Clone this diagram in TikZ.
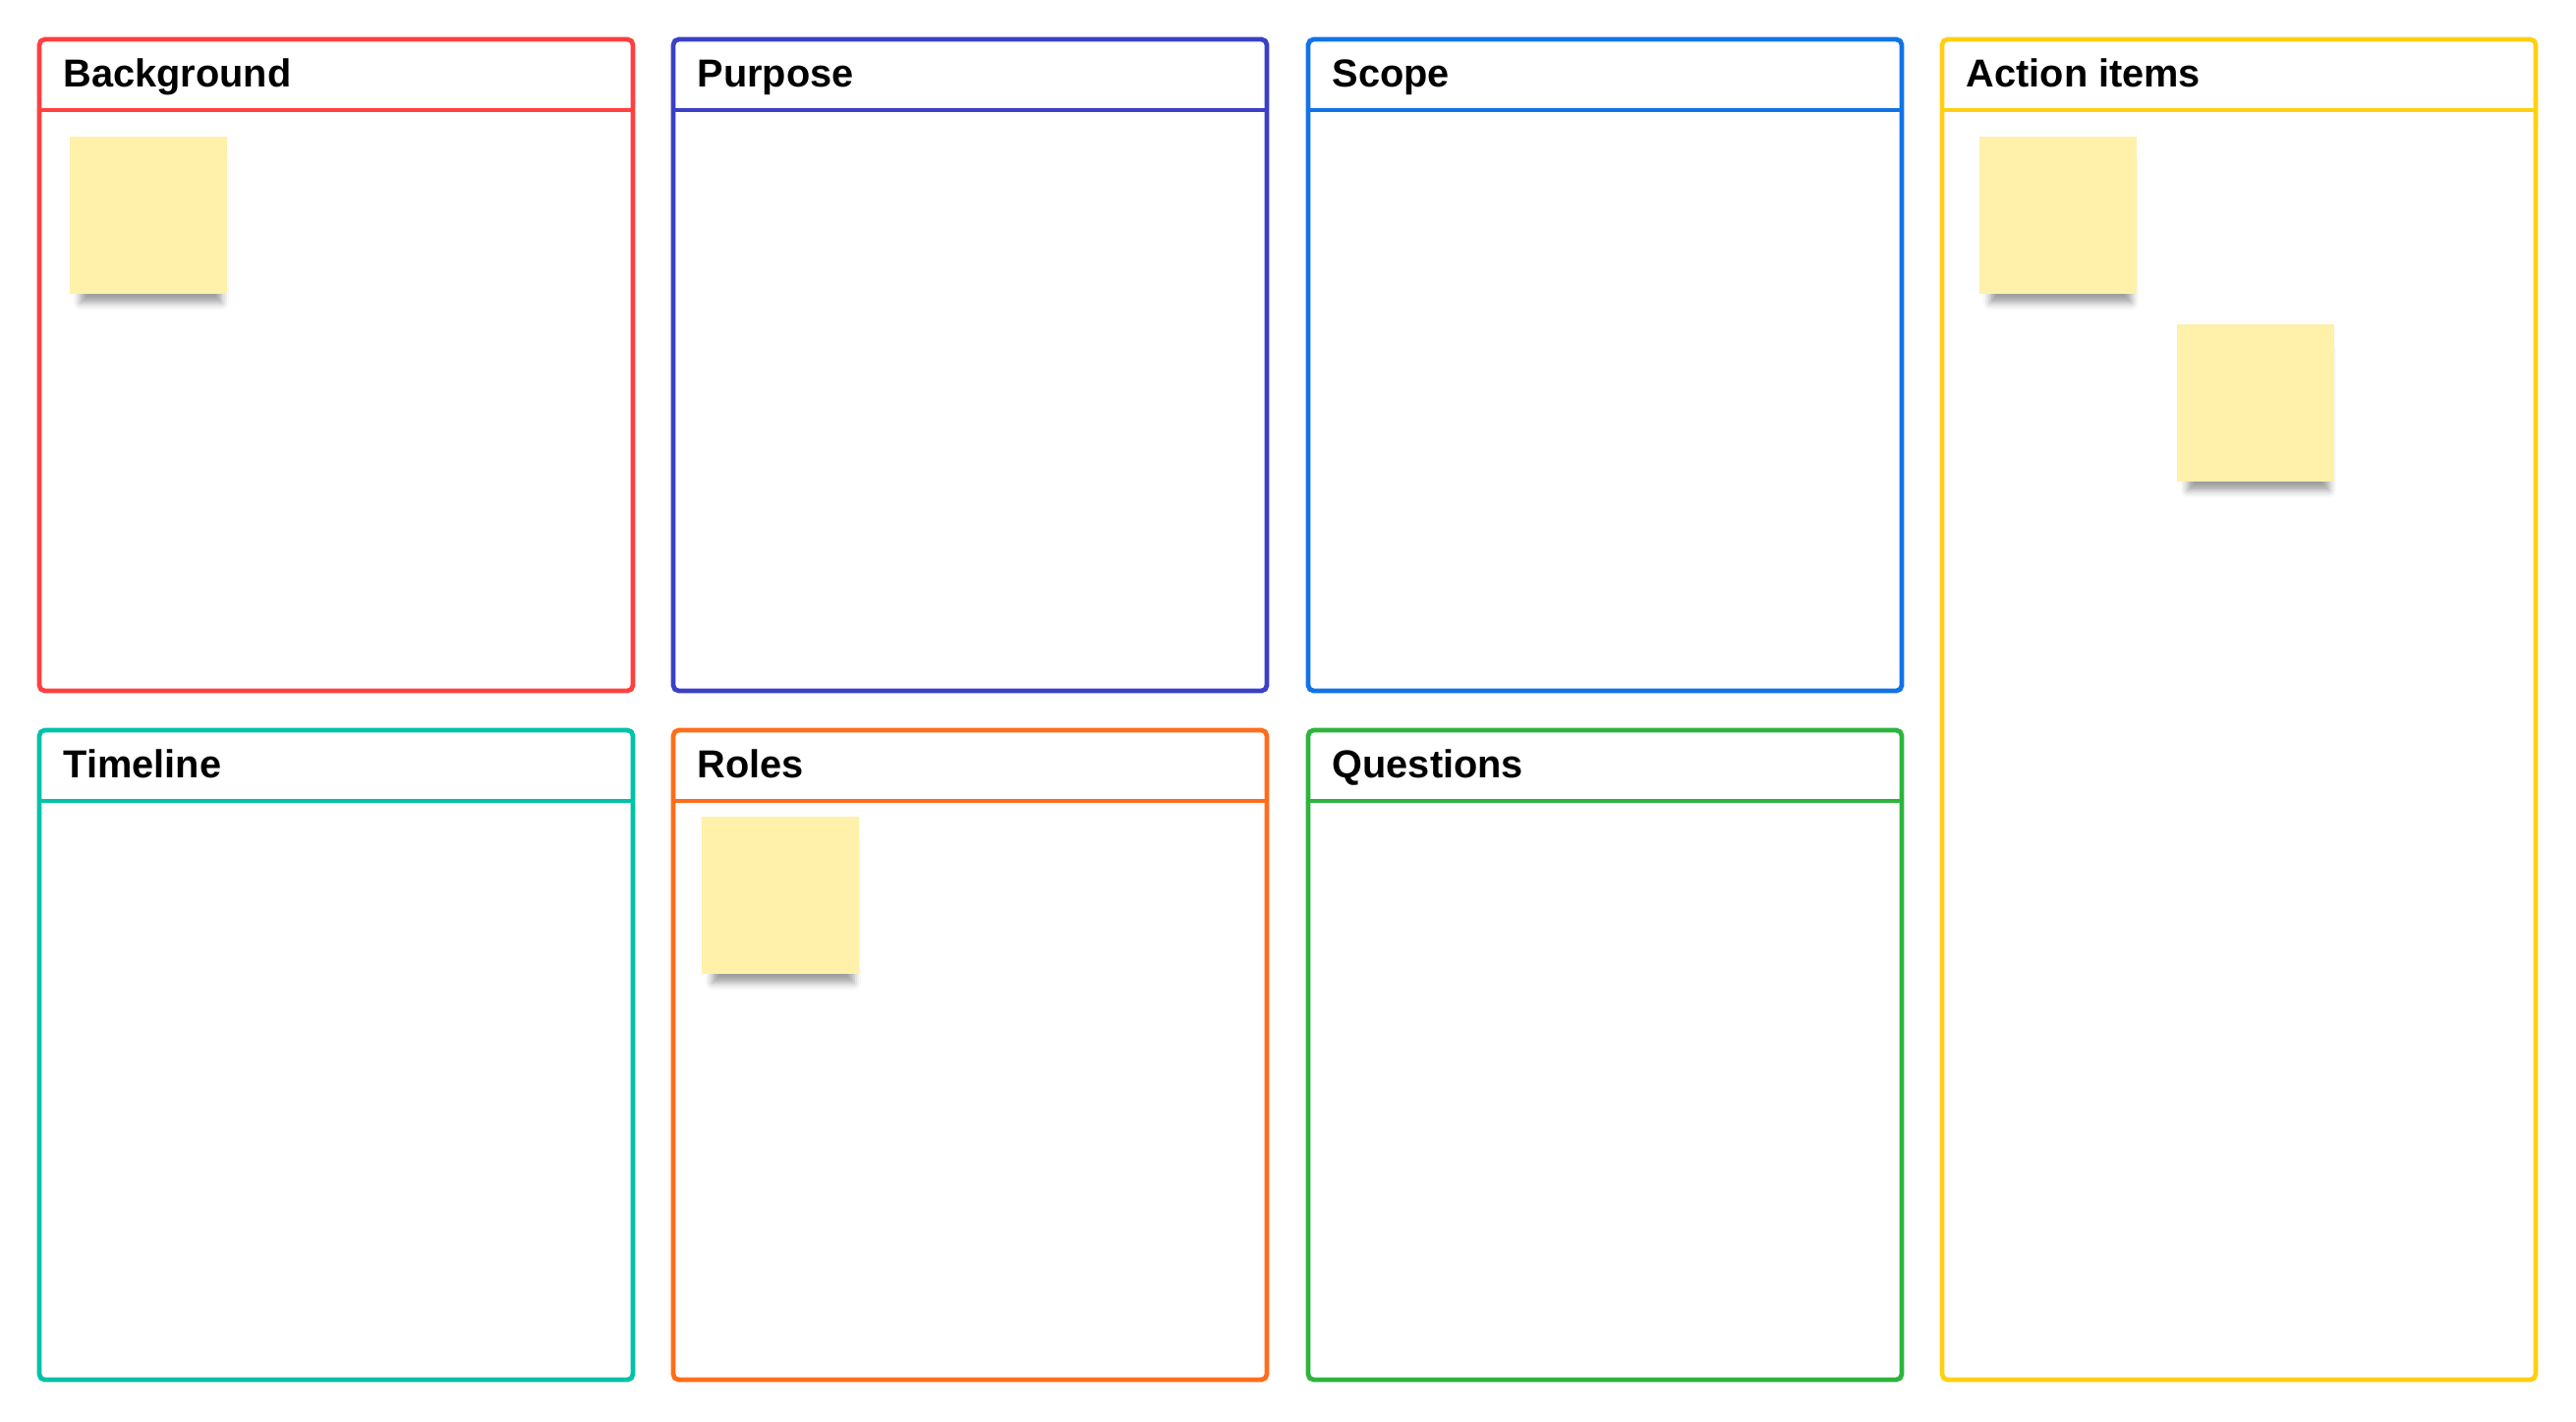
\documentclass[tikz,border=0pt]{standalone}
\usepackage{fontspec}
\setmainfont{Liberation Sans}
\usepackage{tikz}
\usetikzlibrary{positioning,shadows.blur}
\definecolor{cred}{HTML}{FF4040}
\definecolor{cpurple}{HTML}{3B40C6}
\definecolor{cblue}{HTML}{1273E6}
\definecolor{cyellow}{HTML}{FFD012}
\definecolor{cteal}{HTML}{00C2A8}
\definecolor{corange}{HTML}{FF6D1A}
\definecolor{cgreen}{HTML}{2DB43C}
\definecolor{note}{HTML}{FFF0AA}
\tikzset{
  panel/.style={draw=#1, line width=1.35pt, rounded corners=1.6pt, minimum width=6.04cm,
    anchor=north west, inner sep=0pt, outer sep=0pt},
  rule/.style={draw=#1, line width=1.35pt},
  head/.style={anchor=base west, inner sep=0pt, font=\fontsize{11.3}{13}\selectfont\bfseries},
  sticky/.style={fill=note, minimum size=1.6cm, anchor=north west, inner sep=0pt, outer sep=0pt,
    blur shadow={shadow xshift=0.03cm, shadow yshift=-0.19cm, shadow scale=0.9,
      shadow blur radius=0.08cm, shadow opacity=38}},
}

\begin{document}
\begin{tikzpicture}
  \useasboundingbox (0,0) rectangle (26.21,-14.46);
  % panels with header rule and title
  \foreach \id/\x/\y/\h/\col/\txt in {
      bkg/0.40/-0.40/6.63/cred/Background,
      pur/6.85/-0.40/6.63/cpurple/Purpose,
      sco/13.31/-0.40/6.63/cblue/Scope,
      act/19.76/-0.40/13.64/cyellow/Action items,
      tim/0.40/-7.43/6.61/cteal/Timeline,
      rol/6.85/-7.43/6.61/corange/Roles,
      que/13.31/-7.43/6.61/cgreen/Questions}
  {
    \node[panel=\col, minimum height=\h cm] (\id) at (\x,\y) {};
    \draw[rule=\col] ([yshift=-0.72cm]\id.north west) -- ([yshift=-0.72cm]\id.north east);
    \node[head] (\id-t) at ([xshift=0.24cm, yshift=-0.48cm]\id.north west) {\txt};
  }
  % sticky notes
  \node[sticky] (bkg-s1) at ([xshift=0.31cm, yshift=-0.99cm]bkg.north west) {};
  \node[sticky] (rol-s1) at ([xshift=0.29cm, yshift=-0.88cm]rol.north west) {};
  \node[sticky] (act-s1) at ([xshift=0.38cm, yshift=-0.99cm]act.north west) {};
  \node[sticky] (act-s2) at ([xshift=2.39cm, yshift=-2.90cm]act.north west) {};
\end{tikzpicture}
\end{document}
